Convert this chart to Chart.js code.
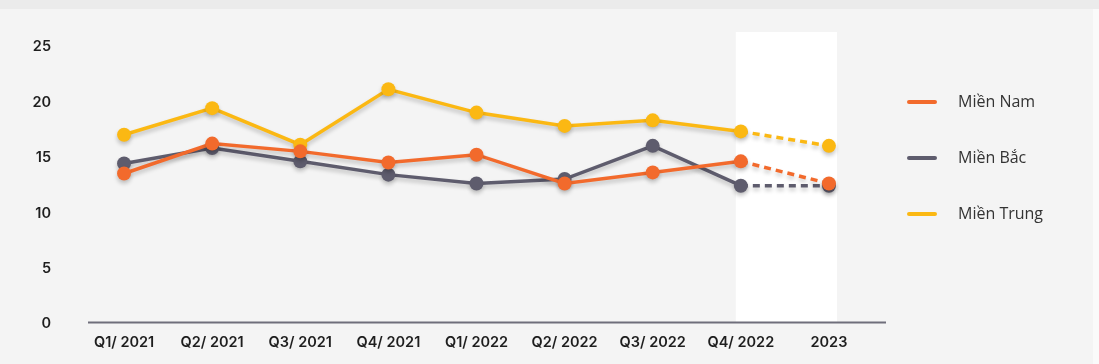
<!DOCTYPE html>
<html>
<head>
<meta charset="utf-8">
<script src="https://cdn.jsdelivr.net/npm/chart.js@4"></script>
<style>
    html, body { margin: 0; padding: 0; background: #f4f4f4; }
    #wrap { position: relative; width: 1099px; height: 364px; overflow: hidden; }
    #topStrip { position: absolute; left: 0; top: 0; width: 1099px; height: 9px; background: #ebebeb; }
    #rightStrip { position: absolute; right: 0; top: 9px; width: 6px; height: 355px; background: #fafafa; }
    canvas { position: absolute; left: 0; top: 0; }
    #legend { position: absolute; left: 907px; top: 90px; font-family: "Open Sans", sans-serif; font-size: 16px; color: #333; }
    .item { height: 56px; display: flex; align-items: flex-start; }
    .swatch { width: 30px; height: 4px; border-radius: 2px; margin-top: 10px; margin-right: 21px; }
</style>
</head>
<body>
<div id="wrap">
    <div id="topStrip"></div>
    <div id="rightStrip"></div>
    <canvas id="regionChart" width="1099" height="364"></canvas>
    <div id="legend"></div>
</div>
<script>
const labels = ['Q1/ 2021', 'Q2/ 2021', 'Q3/ 2021', 'Q4/ 2021', 'Q1/ 2022', 'Q2/ 2022', 'Q3/ 2022', 'Q4/ 2022', '2023'];
const mienNam = [13.4, 16.1, 15.4, 14.4, 15.1, 12.5, 13.5, 14.5, 12.5];
const mienBac = [14.3, 15.7, 14.5, 13.3, 12.5, 12.9, 15.9, 12.3, 12.3];
const mienTrung = [16.9, 19.3, 16.0, 21.0, 18.9, 17.7, 18.2, 17.2, 15.9];
const yTicks = [0, 5, 10, 15, 20, 25];

const seriesNames = ['Miền Nam', 'Miền Bắc', 'Miền Trung'];
const seriesColors = ['#f26a2c', '#5e5c6d', '#fbb813'];

function makeDataset(name, values, color) {
    return {
        label: name,
        data: values,
        borderColor: color,
        backgroundColor: color,
        borderWidth: 3.5,
        pointRadius: 7,
        pointHoverRadius: 7,
        pointBorderWidth: 0,
        tension: 0,
        segment: {
            // forecast segment is dashed
            borderDash: ctx => ctx.p1DataIndex === values.length - 1 ? [7, 5] : undefined
        }
    };
}

// white band behind the forecast period + custom axis line + soft line shadow
const decorPlugin = {
    id: 'decor',
    beforeDatasetsDraw(chart) {
        const { ctx, chartArea, scales } = chart;
        const x = scales.x;
        const left = x.getPixelForValue(7) - 5;
        const right = x.getPixelForValue(8) + 8;
        ctx.save();
        ctx.fillStyle = '#ffffff';
        ctx.fillRect(left, chartArea.top - 13, right - left, chartArea.bottom - chartArea.top + 13);
        ctx.strokeStyle = '#6f6e7b';
        ctx.lineWidth = 2;
        ctx.beginPath();
        ctx.moveTo(chartArea.left + 8, chartArea.bottom + 0.5);
        ctx.lineTo(chartArea.right + 13, chartArea.bottom + 0.5);
        ctx.stroke();
        ctx.restore();

        ctx.save();
        ctx.shadowColor = 'rgba(0, 0, 0, 0.22)';
        ctx.shadowBlur = 4;
        ctx.shadowOffsetY = 3;
    },
    afterDatasetsDraw(chart) {
        chart.ctx.restore();
    }
};

function drawChart() {
    const ctx = document.getElementById('regionChart').getContext('2d');
    new Chart(ctx, {
        type: 'line',
        data: {
            labels: labels,
            datasets: [
                makeDataset(seriesNames[0], mienNam, seriesColors[0]),
                makeDataset(seriesNames[1], mienBac, seriesColors[1]),
                makeDataset(seriesNames[2], mienTrung, seriesColors[2])
            ]
        },
        options: {
            responsive: false,
            animation: false,
            layout: { padding: { left: 0, right: 226, top: 45, bottom: 0 } },
            plugins: {
                legend: { display: false },
                tooltip: { enabled: false }
            },
            scales: {
                x: {
                    offset: true,
                    grid: { display: false, drawTicks: false },
                    border: { display: false },
                    ticks: {
                        padding: 12,
                        color: '#1e1e1e',
                        font: { family: 'Inter', size: 14.5, weight: '600' },
                        maxRotation: 0
                    },
                    afterFit(scale) { scale.height = 42; }
                },
                y: {
                    min: 0,
                    max: 25,
                    afterBuildTicks(scale) { scale.ticks = yTicks.map(v => ({ value: v })); },
                    grid: { display: false, drawTicks: false },
                    border: { display: false },
                    ticks: {
                        padding: 29,
                        labelOffset: 2,
                        color: '#1e1e1e',
                        font: { family: 'Inter', size: 14.5, weight: '600' }
                    },
                    afterFit(scale) { scale.width = 80; }
                }
            }
        },
        plugins: [decorPlugin]
    });

    const legend = document.getElementById('legend');
    seriesNames.forEach((name, i) => {
        const item = document.createElement('div');
        item.className = 'item';
        item.innerHTML = '<span class="swatch" style="background:' + seriesColors[i] + '"></span><span>' + name + '</span>';
        legend.appendChild(item);
    });
}

document.addEventListener('DOMContentLoaded', () => {
    drawChart();
});
</script>
</body>
</html>
